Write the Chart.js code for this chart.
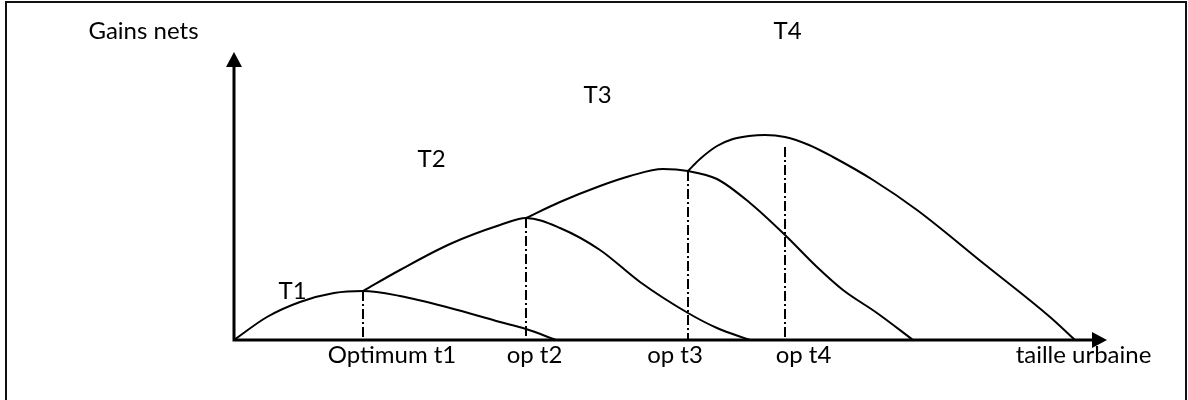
<!DOCTYPE html>
<html lang="fr">
<head>
<meta charset="utf-8">
<title>Gains nets et taille urbaine</title>
<script src="https://cdn.jsdelivr.net/npm/chart.js@4.4.1/dist/chart.umd.min.js"></script>
<style>
  html, body { margin: 0; padding: 0; background: #fff; }
  #graphe { display: block; }
</style>
</head>
<body>
<canvas id="graphe" width="1188" height="400"></canvas>
<script>
/*
  ==================================================
  ===================== DONNEES =====================
  ==================================================
*/

let tailleT1 = [0, 33, 66, 100, 129, 166, 216, 266, 292, 322];
let gainsT1 = [0, 23, 38, 47, 49, 44, 32, 18, 11, 0];

let tailleT2 = [129, 166, 216, 266, 292, 326, 366, 406, 454, 483, 516];
let gainsT2 = [49, 70, 96, 115, 122, 112, 90, 58, 27, 12, 0];

let tailleT3 = [292, 326, 366, 396, 429, 454, 483, 516, 551, 583, 609, 643, 679];
let gainsT3 = [122, 138, 154, 164, 171, 169, 161, 137, 105, 73, 50, 27, 0];

let tailleT4 = [454, 466, 483, 499, 515, 531, 551, 575, 599, 639, 683, 749, 816, 841];
let gainsT4 = [169, 181, 194, 201, 204, 205, 203, 195, 183, 160, 130, 77, 23, 0];

// optimums (trait mixte vertical)
let tailleOptimum = [129, 292, 454, 551];
let gainsOptimum = [49, 122, 169, 193];

// textes
let nomsCourbes = ['T1', 'T2', 'T3', 'T4'];
let nomsOptimum = ['Optimum t1', 'op t2', 'op t3', 'op t4'];
let titreX = 'taille urbaine';
let titreY = 'Gains nets';

// bornes des axes
let xMax = 873;
let yMax = 288;

/*
  ==================================================
  ================ PLACEMENT TEXTES ================
  ==================================================
*/

// centre du texte (en unites des axes), ligne de base
let placeCourbes = [[58.5, 41], [197.5, 173], [363.5, 237], [553.5, 301]];
let placeOptimum = [[158, -23], [300.5, -23], [441, -23], [569.5, -23]];
let placeTitreX = [849.5, -23];
let placeTitreY = [-90.5, 301];

/*
  ==================================================
  ==================== DATASETS ====================
  ==================================================
*/

let versPoints = (xs, ys) => xs.map((v, i) => ({ x: v, y: ys[i] }));

let courbe = (xs, ys) => ({
  data: versPoints(xs, ys),
  borderColor: '#000',
  borderWidth: 2,
  pointRadius: 0,
  fill: false,
  cubicInterpolationMode: 'monotone'
});

let tiret = (x, y) => ({
  data: [{ x: x, y: y }, { x: x, y: 0 }],
  borderColor: '#000',
  borderWidth: 2,
  borderDash: [10, 3, 2, 3],
  pointRadius: 0,
  fill: false
});

let datasets = [
  courbe(tailleT1, gainsT1),
  courbe(tailleT2, gainsT2),
  courbe(tailleT3, gainsT3),
  courbe(tailleT4, gainsT4)
];
tailleOptimum.forEach((v, i) => datasets.push(tiret(v, gainsOptimum[i])));

/*
  ==================================================
  ============ AXES, FLECHES ET TEXTES =============
  ==================================================
*/

let dessinSchema = {
  id: 'dessinSchema',
  afterDraw(chart) {
    let { ctx, scales: { x, y } } = chart;
    let px = v => x.getPixelForValue(v);
    let py = v => y.getPixelForValue(v);

    let x0 = px(0), y0 = py(0);
    let xFin = px(xMax), yFin = py(yMax);

    ctx.save();

    // cadre
    ctx.strokeStyle = '#111';
    ctx.lineWidth = 2;
    ctx.strokeRect(6, 2, 1180, 430);

    // axes
    ctx.strokeStyle = '#000';
    ctx.lineWidth = 3;
    ctx.beginPath();
    ctx.moveTo(x0, y0);
    ctx.lineTo(xFin - 12, y0);
    ctx.moveTo(x0, y0 + 1.5);
    ctx.lineTo(x0, yFin + 12);
    ctx.stroke();

    // fleches
    ctx.fillStyle = '#000';
    ctx.beginPath();
    ctx.moveTo(xFin, y0);
    ctx.lineTo(xFin - 15, y0 - 8);
    ctx.lineTo(xFin - 15, y0 + 8);
    ctx.closePath();
    ctx.fill();
    ctx.beginPath();
    ctx.moveTo(x0, yFin);
    ctx.lineTo(x0 - 8, yFin + 15);
    ctx.lineTo(x0 + 8, yFin + 15);
    ctx.closePath();
    ctx.fill();

    // textes
    ctx.font = '24px Lato, "Open Sans", sans-serif';
    ctx.textAlign = 'center';
    ctx.textBaseline = 'alphabetic';
    let ecrire = (txt, p) => ctx.fillText(txt, px(p[0]), py(p[1]));

    nomsCourbes.forEach((t, i) => ecrire(t, placeCourbes[i]));
    nomsOptimum.forEach((t, i) => ecrire(t, placeOptimum[i]));
    ecrire(titreX, placeTitreX);
    ecrire(titreY, placeTitreY);

    ctx.restore();
  }
};

/*
  ==================================================
  ===================== CHART ======================
  ==================================================
*/

new Chart(document.getElementById('graphe').getContext('2d'), {
  type: 'line',
  data: { datasets },
  options: {
    responsive: false,
    animation: false,
    events: [],
    layout: { padding: { left: 234, right: 81, top: 52, bottom: 60 } },
    plugins: {
      legend: { display: false },
      tooltip: { enabled: false }
    },
    scales: {
      x: { type: 'linear', min: 0, max: xMax, display: false },
      y: { type: 'linear', min: 0, max: yMax, display: false }
    }
  },
  plugins: [dessinSchema]
});
</script>
</body>
</html>
